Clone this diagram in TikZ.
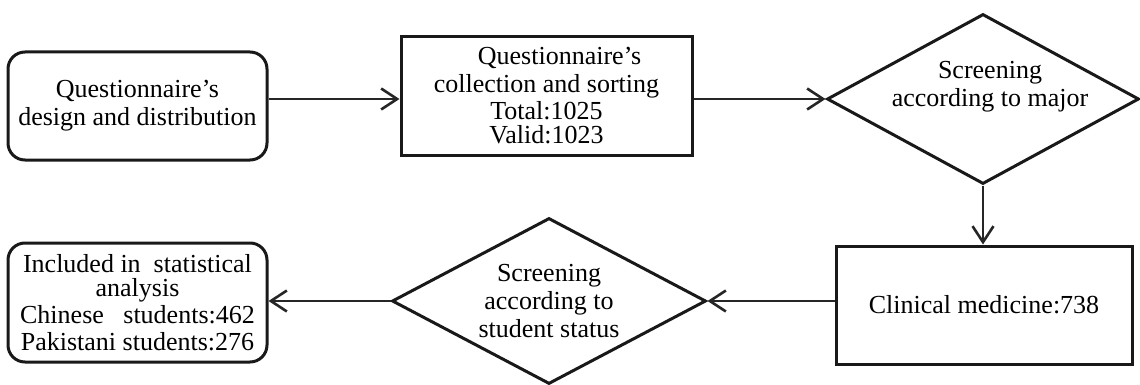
\documentclass[tikz,border=0pt]{standalone}
\usepackage{fontspec}
\setmainfont{Liberation Serif}
\usetikzlibrary{shapes.geometric,arrows.meta}
\begin{document}
\begin{tikzpicture}[x=1pt,y=-1pt,
  txt/.style={font=\fontsize{26}{28}\selectfont, align=center, text=black},
  roundbox/.style={txt, draw=black!90, line width=3pt, rounded corners=17pt,
    minimum width=259pt, inner sep=0pt},
  sqbox/.style={txt, draw=black!90, line width=3pt, inner sep=0pt},
  decision/.style={draw=black!90, line width=3pt, diamond, inner sep=0pt, aspect=1.84},
  flow/.style={draw=black!85, line width=2.6pt,
    -{Straight Barb[length=16pt,width=21pt]}}
]
\useasboundingbox (0,0) rectangle (1140,385);

% top row
\node[roundbox, minimum height=108pt] (b1) at (137.5,106)
  {Questionnaire’s\\design and distribution};
\node[sqbox, minimum width=291pt, minimum height=118pt] (b2) at (546.5,96)
  {\hspace*{26pt}Questionnaire’s\\collection and sorting\\[-1pt]Total:1025\\[-4pt]Valid:1023};
\node[decision, minimum width=312pt, minimum height=170pt] (d1) at (983,99) {};
\node[txt, inner sep=0pt] (d1t) at ([xshift=7pt,yshift=12pt]d1.center)
  {Screening\\according to major};

% bottom row
\node[sqbox, minimum width=296pt, minimum height=118pt] (b3) at (984,305)
  {Clinical medicine:738};
\node[decision, txt, minimum width=314pt, minimum height=166pt] (d2) at (549,301)
  {Screening\\according to\\student status};
\node[roundbox, minimum height=119pt, font=\fontsize{26}{27}\selectfont] (b4) at (137.5,302.5)
  {Included in\ \ statistical\\[-3pt]analysis\\Chinese\ \ \ students:462\\Pakistani students:276};

% connectors
\coordinate (r1) at (0,99);
\coordinate (r2) at (0,301);
\draw[flow] (b1.east |- r1) -- (b2.west |- r1);
\draw[flow] (b2.east |- r1) -- (d1.west);
\draw[flow] (d1.south) -- (b3.north -| d1.south);
\draw[flow] (b3.west |- r2) -- (d2.east);
\draw[flow] (d2.west) -- (b4.east |- r2);
\end{tikzpicture}
\end{document}
